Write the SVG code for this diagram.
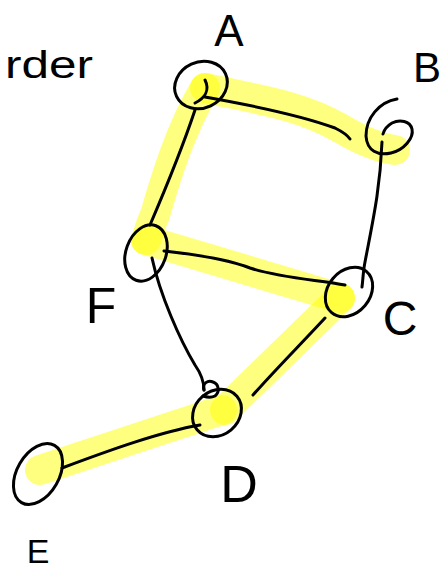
<svg xmlns="http://www.w3.org/2000/svg" width="443" height="572" viewBox="0 0 443 572">
<style>
.hl{fill:none;stroke:#ffff00;stroke-opacity:0.5;stroke-width:30;stroke-linecap:round;stroke-linejoin:round}
.ink{fill:none;stroke:#000;stroke-width:3;stroke-linecap:round;stroke-linejoin:round}
.lbl{font-family:"Liberation Sans",Arial,sans-serif;fill:#000;text-anchor:middle}
</style>
<rect width="443" height="572" fill="#fff"/>
<g id="highlight">
<path class="hl" d="M205 88 C260 100 300 105 340 128 C360 140 380 148 395 150"/>
<path class="hl" d="M205 88 C180 130 165 180 155 215 C150 225 148 235 146 240"/>
<path class="hl" d="M146 240 L340 298"/>
<path class="hl" d="M340 298 L225 410"/>
<path class="hl" d="M222 410 L40 470"/>
</g>
<g id="connectors">
<path class="ink" d="M205 97 C250 105 300 115 335 128 C343 132 348 136 350 139"/>
<path class="ink" d="M382 142 C380 190 373 220 365 262 C363 272 363 280 362 287"/>
<path class="ink" d="M195 110 C185 140 165 190 150 225"/>
<path class="ink" d="M164 251 C200 255 230 260 250 268 C280 278 320 280 345 285"/>
<path class="ink" d="M325 318 C300 345 275 370 253 395"/>
<path class="ink" d="M152 258 C160 295 180 340 195 365 C202 375 204 383 204 390"/>
<path class="ink" d="M62 468 C110 450 160 432 200 425"/>
</g>
<g id="node-A">
<ellipse class="ink" cx="201" cy="85" rx="27" ry="23" transform="rotate(-25 201 85)"/>
<path class="ink" d="M205 80 C210 90 205 98 195 103"/>
<text class="lbl" x="229" y="46" font-size="44">A</text>
</g>
<g id="node-B">
<path class="ink" d="M397 99 C379 102 366 118 366 136 C367 151 378 156 391 153 C404 150 414 138 412 129 C410 121 400 119 392 123 C387 126 384 130 383 134"/>
<text class="lbl" x="427" y="82" font-size="42">B</text>
</g>
<g id="node-F">
<ellipse class="ink" cx="146" cy="253" rx="20" ry="29" transform="rotate(20 146 253)"/>
<text class="lbl" x="101" y="323" font-size="50">F</text>
</g>
<g id="node-C">
<ellipse class="ink" cx="349" cy="292" rx="21" ry="27" transform="rotate(40 349 292)"/>
<text class="lbl" x="400" y="335" font-size="48">C</text>
</g>
<g id="node-D">
<ellipse class="ink" cx="217" cy="413" rx="26" ry="22" transform="rotate(-40 217 413)"/>
<path class="ink" d="M204 390 C202 383 208 380 213 382 C219 384 220 392 215 396 C211 398 206 397 203 396"/>
<text class="lbl" x="239" y="502" font-size="52">D</text>
</g>
<g id="node-E">
<ellipse class="ink" cx="38" cy="474" rx="21" ry="33" transform="rotate(30 38 474)"/>
<text class="lbl" x="38" y="563" font-size="34">E</text>
</g>
<text x="5" y="78" font-family="'Liberation Sans',Arial,sans-serif" font-size="38" textLength="88" lengthAdjust="spacingAndGlyphs">rder</text>
</svg>
